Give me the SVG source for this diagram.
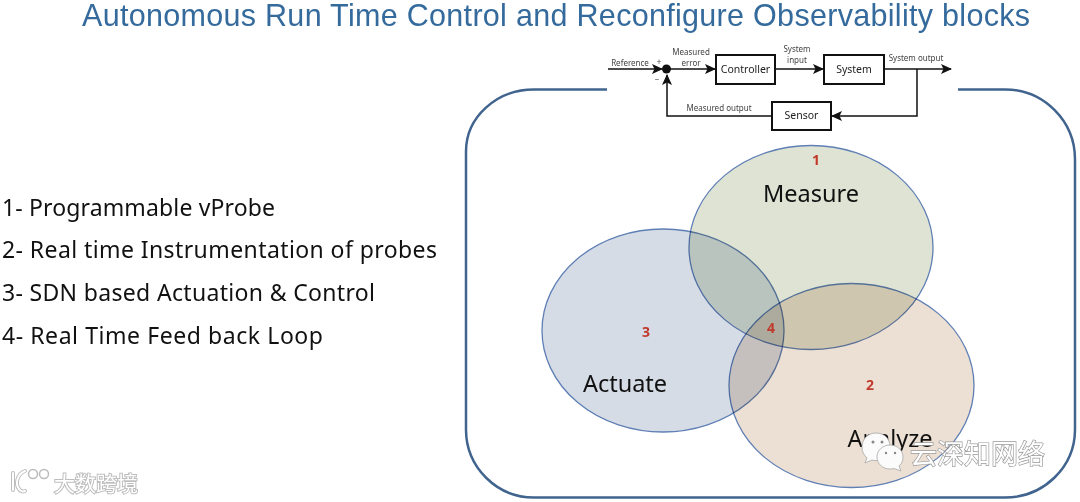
<svg xmlns="http://www.w3.org/2000/svg" width="1080" height="502" viewBox="0 0 1080 502">
<defs>
<style>
text{font-family:"Noto Sans","Liberation Sans",sans-serif}
.title{font-family:"Liberation Sans",sans-serif;font-size:30.500px;fill:#346a9c}
.li{font-size:23px;fill:#111}
.big{font-size:23.500px;fill:#111}
.num{font-size:14px;font-weight:700;fill:#c0392b;text-anchor:middle}
.venn{stroke:#5f7fb5;stroke-width:1.300}
.frame{fill:none;stroke:#41648f;stroke-width:2.500}
.box{fill:#fff;stroke:#111;stroke-width:2}
.bl{font-size:10.500px;fill:#222;text-anchor:middle}
.sm{font-size:8px;fill:#444;text-anchor:middle}
.wire{fill:none;stroke:#111;stroke-width:1.500}
.wm{fill:#fff;stroke:#9a9a9a;stroke-width:1.400;paint-order:stroke;font-family:"Noto Sans CJK SC",sans-serif}
.bub{fill:#fbfbfb;stroke:#a8a8a8;stroke-width:.8}
.ghost{fill:none;stroke-linecap:round}
</style>
<marker id="a" markerWidth="11" markerHeight="10" refX="10" refY="5" orient="auto" markerUnits="userSpaceOnUse"><path d="M0 0L11 5L0 10L2.500 5Z" fill="#111"/></marker>
</defs>
<rect width="1080" height="502" fill="#fff"/>
<text class="title" x="82" y="26" textLength="948" lengthAdjust="spacing">Autonomous Run Time Control and Reconfigure Observability blocks</text>
<path id="frame" class="frame" d="M607 89.500H534A68 62 0 0 0 466 151.500V430A68 68 0 0 0 534 497.500H1005A70 68 0 0 0 1075 430V160A70 70 0 0 0 1005 89.500H958"/>
<g id="list">
<text class="li" x="2" y="216" textLength="273" lengthAdjust="spacing">1- Programmable vProbe</text>
<text class="li" x="2" y="258" textLength="435" lengthAdjust="spacing">2- Real time Instrumentation of probes</text>
<text class="li" x="2" y="301" textLength="373" lengthAdjust="spacing">3- SDN based Actuation &amp; Control</text>
<text class="li" x="2" y="344" textLength="321" lengthAdjust="spacing">4- Real Time Feed back Loop</text>
</g>
<g id="venn" style="isolation:isolate">
<g id="measure"><ellipse class="venn" cx="811" cy="247.500" rx="122" ry="102" fill="#dfe3d4" style="mix-blend-mode:multiply"/></g>
<g id="actuate"><ellipse class="venn" cx="663" cy="330.500" rx="121" ry="101.500" fill="#d5dce6" style="mix-blend-mode:multiply"/></g>
<g id="analyze"><ellipse class="venn" cx="851.500" cy="385.500" rx="122.500" ry="102" fill="#ecdfd3" style="mix-blend-mode:multiply"/></g>
</g>
<g id="labels">
<text class="big" x="811" y="202" text-anchor="middle">Measure</text>
<text class="big" x="625" y="392" text-anchor="middle">Actuate</text>
<text class="big" x="890" y="447" text-anchor="middle">Analyze</text>
<text class="num" x="816" y="165">1</text>
<text class="num" x="870" y="390">2</text>
<text class="num" x="646" y="337">3</text>
<text class="num" x="771" y="333">4</text>
</g>
<g id="connectors">
<path class="wire" d="M608 69H662" marker-end="url(#a)"/>
<path class="wire" d="M667 69H715" marker-end="url(#a)"/>
<path class="wire" d="M776 69H823" marker-end="url(#a)"/>
<path class="wire" d="M885 69H951" marker-end="url(#a)"/>
<path class="wire" d="M917 69V116H832" marker-end="url(#a)"/>
<path class="wire" d="M772 116H667V75" marker-end="url(#a)"/>
</g>
<g id="junction"><circle cx="666.500" cy="69" r="4.500" fill="#111"/></g>
<g id="controller"><rect class="box" x="716" y="55" width="59" height="29"/><text class="bl" x="745.500" y="73">Controller</text></g>
<g id="system"><rect class="box" x="824" y="55" width="60" height="29"/><text class="bl" x="854" y="73">System</text></g>
<g id="sensor"><rect class="box" x="772" y="102" width="59" height="28"/><text class="bl" x="801.500" y="119">Sensor</text></g>
<g id="block-labels">
<text class="sm" x="630" y="66">Reference</text>
<text class="sm" x="659" y="65">+</text>
<text class="sm" x="657" y="82">−</text>
<text class="sm" x="691" y="55">Measured</text>
<text class="sm" x="691" y="66">error</text>
<text class="sm" x="797" y="52">System</text>
<text class="sm" x="797" y="63">input</text>
<text class="sm" x="916" y="61">System output</text>
<text class="sm" x="719" y="111">Measured output</text>
</g>
<g id="watermark-yunshen">
<path class="bub" d="M876 433c-8 0-14 6-14 14 0 5 2 8 5 11l-2 5 7-3c1 .5 3 .6 4 .6 8 0 14-6 14-14s-6-13.600-14-13.600z"/>
<circle cx="873" cy="442" r="1.500" fill="#888"/><circle cx="882" cy="442" r="1.500" fill="#888"/>
<path class="bub" d="M890 445c-7.500 0-13 5.500-13 12s5.500 12 13 12c1.500 0 3-.2 4-.5l7 2.500-2-5c3-2.500 4-5.500 4-9 0-6.500-5.500-12-13-12z"/>
<circle cx="886" cy="453" r="1.200" fill="#888"/><circle cx="895" cy="453" r="1.200" fill="#888"/>
<text class="wm" x="910" y="464" font-size="27">云深知网络</text>
</g>
<g id="watermark-dashu">
<path class="ghost" d="M13 473V490M25 471C17 474 15 484 19 489C20 491 23 492 25 491" stroke="#bdbdbd" stroke-width="4"/>
<path class="ghost" d="M13 473V490M25 471C17 474 15 484 19 489C20 491 23 492 25 491" stroke="#fff" stroke-width="2"/>
<circle cx="33" cy="474" r="4.500" fill="#fff" stroke="#bbb" stroke-width="1.500"/><circle cx="44" cy="474" r="4.500" fill="#fff" stroke="#bbb" stroke-width="1.500"/>
<text class="wm" x="54" y="491" font-size="21" style="stroke:#bdbdbd;stroke-width:2">大数跨境</text>
</g>
</svg>
